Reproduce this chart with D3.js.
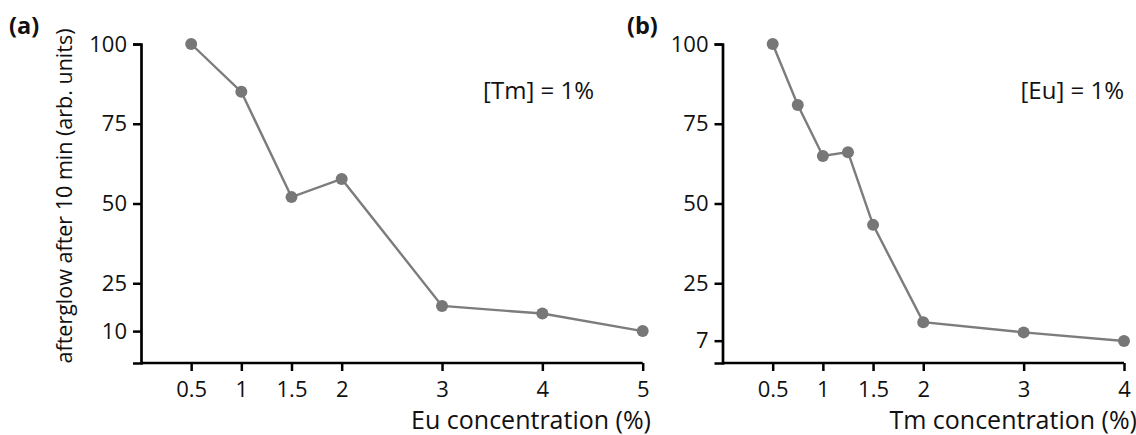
<!DOCTYPE html>
<html><head><meta charset="utf-8">
<script src="https://cdn.jsdelivr.net/npm/d3@7"></script>
<style>
html,body{margin:0;padding:0;background:#fff;}
svg{display:block;font-family:"Open Sans",sans-serif;}
</style></head>
<body><svg id="c" width="1136" height="435"></svg>
<script>
// Panel (a): Eu concentration, [Tm] = 1%
const euConc = [0.5, 1, 1.5, 2, 3, 4, 5];
const euAfterglow = [100, 85, 52, 57.7, 17.9, 15.5, 10];
const euTicks = [0.5, 1, 1.5, 2, 3, 4, 5];
const euYTicks = [100, 75, 50, 25, 10];
// Panel (b): Tm concentration, [Eu] = 1%
const tmConc = [0.5, 0.75, 1, 1.25, 1.5, 2, 3, 4];
const tmAfterglow = [100, 80.9, 64.9, 66.1, 43.3, 12.8, 9.6, 6.9];
const tmTicks = [0.5, 1, 1.5, 2, 3, 4];
const tmYTicks = [100, 75, 50, 25, 7];

const svg = d3.select("#c");
const y = d3.scaleLinear().domain([0, 100]).range([363, 44]);

function panel(cfg){
  const x = d3.scaleLinear().domain(cfg.xdom).range(cfg.xr);
  const g = svg.append("g");
  const ax = g.append("g").attr("transform","translate(0,363)")
    .call(d3.axisBottom(x).tickValues(cfg.xt).tickSizeOuter(0).tickSize(8).tickPadding(10).tickFormat(d=>String(d)));
  const ay = g.append("g").attr("transform",`translate(${cfg.xr[0]},0)`)
    .call(d3.axisLeft(y).tickValues(cfg.yt).tickSizeOuter(0).tickSize(8).tickPadding(6));
  [ax, ay].forEach(a=>{
    a.select(".domain").attr("stroke","#000").attr("stroke-width",2.7);
    a.selectAll(".tick line").attr("stroke","#000").attr("stroke-width",2.5);
    a.selectAll(".tick text").attr("fill","#111").attr("font-size",22).attr("font-family","Open Sans");
  });
  ax.select(".domain").attr("d",`M${cfg.xr[0]},0H${x(cfg.xt[cfg.xt.length-1])}`);
  const pts = cfg.xs.map((v,i)=>[v,cfg.ys[i]]);
  g.append("path").datum(pts)
    .attr("fill","none").attr("stroke","#7c7c7c").attr("stroke-width",2.4)
    .attr("d", d3.line().x(d=>x(d[0])).y(d=>y(d[1])));
  g.selectAll("circle.m").data(pts).join("circle").attr("class","m")
    .attr("cx",d=>x(d[0])).attr("cy",d=>y(d[1])).attr("r",6).attr("fill","#777");
  g.append("text").attr("x",cfg.titleEnd).attr("y",429).attr("text-anchor","end")
    .attr("font-size",25).attr("fill","#111").text(cfg.title);
  g.append("text").attr("x",cfg.noteEnd).attr("y",99).attr("text-anchor","end")
    .attr("font-size",24).attr("fill","#111").text(cfg.note);
  g.append("text").attr("x",cfg.labX).attr("y",34).attr("font-size",23.5)
    .attr("font-weight","bold").attr("fill","#111").text(cfg.lab);
}

panel({xdom:[0,5], xr:[141,642.7], xt:euTicks, yt:euYTicks, xs:euConc, ys:euAfterglow,
  title:"Eu concentration (%)", titleEnd:651, note:"[Tm] = 1%", noteEnd:594, lab:"(a)", labX:9});
panel({xdom:[0,4], xr:[722.5,1124], xt:tmTicks, yt:tmYTicks, xs:tmConc, ys:tmAfterglow,
  title:"Tm concentration (%)", titleEnd:1137, note:"[Eu] = 1%", noteEnd:1124, lab:"(b)", labX:627});

svg.append("text").attr("transform","translate(72,196) rotate(-90)")
  .attr("text-anchor","middle").attr("font-size",21.5).attr("fill","#111")
  .text("afterglow after 10 min (arb. units)");
</script></body></html>
